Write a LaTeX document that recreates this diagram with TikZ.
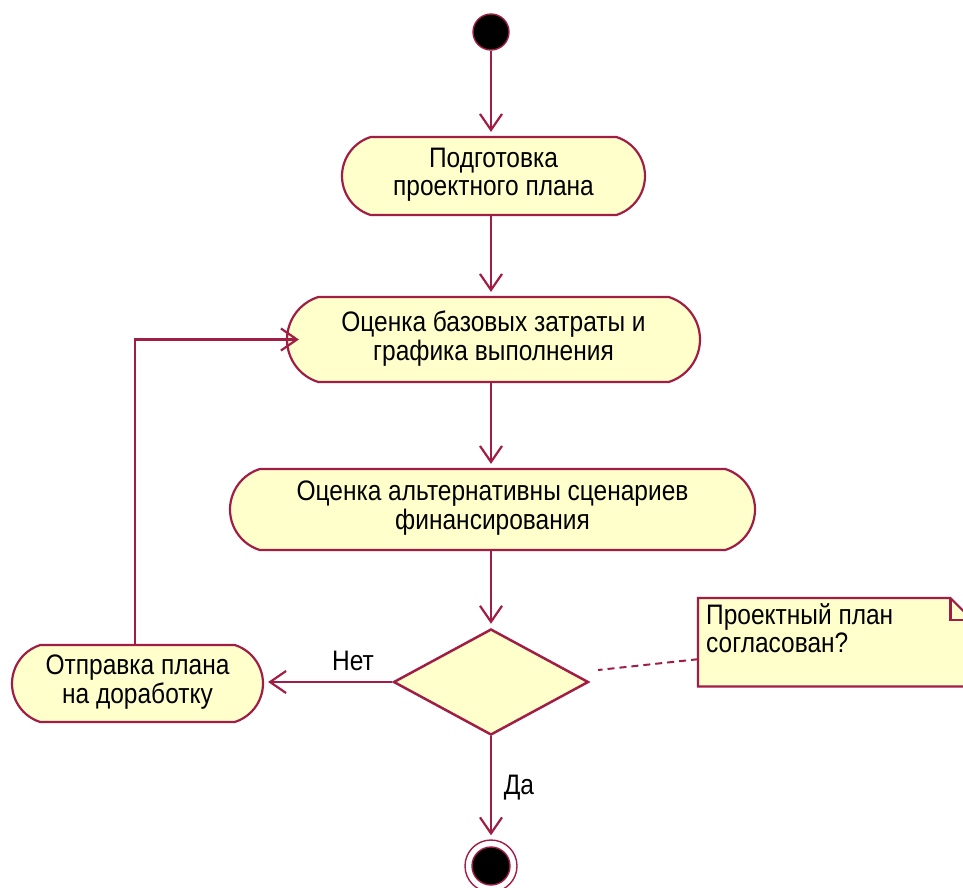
\documentclass[tikz,border=0pt]{standalone}
\usepackage{fontspec}
\setmainfont{Liberation Sans}
\usetikzlibrary{shapes.misc,shapes.geometric,arrows.meta}
\definecolor{rosered}{RGB}{160,30,70}
\definecolor{roseyellow}{RGB}{255,255,204}
% two-line label, slightly stretched vertically like the screen font
\newcommand\lbl[1]{\scalebox{1}[1.15]{\begin{tabular}{@{}c@{}}#1\end{tabular}}}
\newcommand\lbll[1]{\scalebox{1}[1.15]{\begin{tabular}{@{}l@{}}#1\end{tabular}}}
\begin{document}
\begin{tikzpicture}[x=1pt,y=-1pt,
  flow/.style={draw=rosered, line width=2.2pt,
    -{Straight Barb[length=16pt,width=22pt]}, shorten >=4pt},
  act/.style={rounded rectangle, rounded rectangle arc length=145,
    draw=rosered, fill=roseyellow, line width=2.2pt, inner sep=0pt,
    font=\fontsize{24.5}{24.5}\selectfont},
  lab/.style={font=\fontsize{24.5}{24.5}\selectfont, inner sep=0pt},
  dot/.style={circle, fill=black, draw=rosered, line width=1.4pt, inner sep=0pt}
]
\useasboundingbox (0,0) rectangle (963,887);
\clip (0,0) rectangle (963,887);

% activities
\node[dot, minimum size=36pt] (start) at (491,32) {};
\node[act, minimum width=303pt, minimum height=78pt] (a1) at (493.5,176)
  {\lbl{Подготовка\\проектного плана}};
\node[act, minimum width=413pt, minimum height=85pt] (a2) at (493.5,339.5)
  {\lbl{Оценка базовых затраты и\\графика выполнения}};
\node[act, minimum width=525pt, minimum height=81pt] (a3) at (492.5,509.5)
  {\lbl{Оценка альтернативны сценариев\\финансирования}};
\node[diamond, draw=rosered, fill=roseyellow, line width=2.5pt, inner sep=0pt,
  aspect=1.84, minimum width=195pt, minimum height=106pt] (dec) at (491,682) {};
\node[act, minimum width=251pt, minimum height=77pt] (a4) at (137.5,683.5)
  {\lbl{Отправка плана\\на доработку}};
\node[circle, draw=rosered, line width=1.4pt, fill=white, inner sep=0pt,
  minimum size=52pt] (fin) at (491,866) {};
\node[dot, minimum size=38pt] (fincore) at (fin.center) {};

% note attached to the decision
\node[minimum width=274pt, minimum height=88pt, inner sep=0pt,
  anchor=north west] (note) at (698,598) {};
\draw[rosered, fill=roseyellow, line width=2.2pt]
  (note.north west) -- ([xshift=-22pt]note.north east)
  -- ([yshift=-22pt]note.north east) -- (note.south east)
  -- (note.south west) -- cycle;
\draw[rosered, line width=2.2pt]
  ([xshift=-22pt]note.north east) -- ([xshift=-22pt,yshift=-22pt]note.north east)
  -- ([yshift=-22pt]note.north east);
\node[lab, anchor=north west] (ntext) at (706,603)
  {\lbll{Проектный план\\согласован?}};
\coordinate (nend) at (598,670);
\draw[rosered, line width=2pt, dash pattern=on 7pt off 5pt]
  ([yshift=-17pt]note.west) -- (nend);

% control flow
\draw[flow] (start.south) -- (start.south |- a1.north);
\draw[flow] (start |- a1.south) -- (start |- a2.north);
\draw[flow] (start |- a2.south) -- (start |- a3.north);
\draw[flow] (start |- a3.south) -- (start |- dec.north);
\draw[flow] (dec.west) -- (dec.west -| a4.east);
\draw[flow] (dec.south) -- (dec.south |- fin.north);
\draw[flow, shorten >=-13pt] ([xshift=-2.5pt]a4.north) |- (a2.west);

\node[lab] (no) at (353,661) {\scalebox{1}[1.15]{Нет}};
\node[lab] (yes) at (519,788) {\scalebox{1}[1.15]{Да}};
\end{tikzpicture}
\end{document}
